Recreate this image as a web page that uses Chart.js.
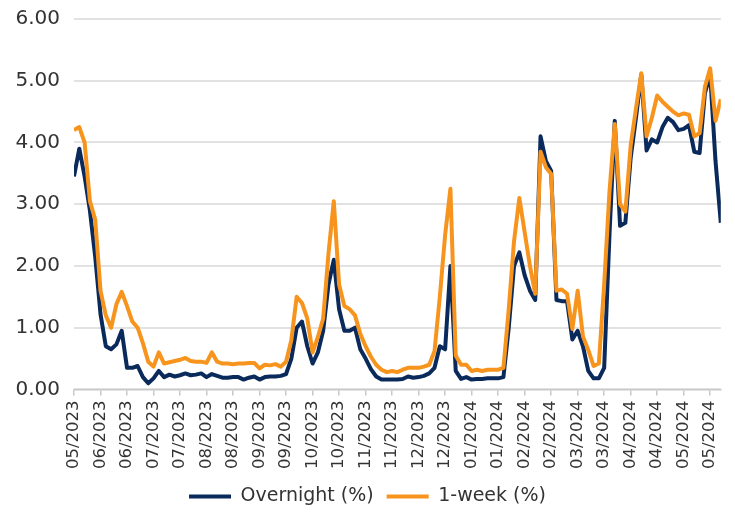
<!DOCTYPE html>
<html>
<head>
<meta charset="utf-8">
<script src="https://cdn.jsdelivr.net/npm/chart.js@4.4.1/dist/chart.umd.min.js"></script>
<style>
  html, body { margin: 0; padding: 0; background: #ffffff; }
  #wrap { width: 735px; height: 516px; }
</style>
</head>
<body>
<div id="wrap"><canvas id="c" width="735" height="516"></canvas></div>
<script>
// Tick labels (one every 5 observations)
const tickLabels = ['05/2023','06/2023','06/2023','07/2023','07/2023','08/2023','08/2023','09/2023','09/2023',
  '10/2023','10/2023','11/2023','11/2023','12/2023','12/2023','01/2024','01/2024','02/2024','02/2024',
  '03/2024','03/2024','04/2024','04/2024','05/2024','05/2024'];

// Overnight rate (%)
const overnight = [
  3.45,3.90,3.45,2.90,2.15,1.22,0.70,0.65,0.73,0.95,
  0.35,0.35,0.38,0.20,0.10,0.18,0.30,0.20,0.24,0.21,
  0.23,0.26,0.23,0.24,0.26,0.20,0.25,0.22,0.19,0.19,
  0.20,0.20,0.16,0.19,0.21,0.16,0.20,0.21,0.21,0.22,
  0.25,0.50,1.00,1.10,0.70,0.42,0.60,0.95,1.70,2.10,
  1.30,0.95,0.95,1.00,0.65,0.50,0.33,0.21,0.16,0.16,
  0.16,0.16,0.17,0.21,0.19,0.20,0.22,0.26,0.35,0.70,
  0.65,2.00,0.30,0.17,0.20,0.16,0.17,0.17,0.18,0.18,
  0.18,0.20,1.00,2.00,2.22,1.85,1.60,1.45,4.10,3.70,
  3.54,1.45,1.43,1.43,0.81,0.95,0.70,0.30,0.18,0.18,
  0.35,2.50,4.35,2.65,2.70,3.75,4.40,5.10,3.87,4.05,
  4.00,4.25,4.40,4.33,4.20,4.22,4.28,3.85,3.83,4.80,
  5.10,3.70,2.70
];

// 1-week rate (%)
const oneWeek = [
  4.20,4.25,4.00,3.05,2.75,1.60,1.20,1.00,1.38,1.58,
  1.35,1.10,1.00,0.75,0.45,0.37,0.60,0.42,0.44,0.46,
  0.48,0.51,0.46,0.45,0.45,0.43,0.60,0.45,0.42,0.42,
  0.41,0.42,0.42,0.43,0.43,0.34,0.40,0.39,0.41,0.37,
  0.45,0.80,1.50,1.40,1.15,0.60,0.85,1.15,2.20,3.05,
  1.70,1.35,1.30,1.20,0.90,0.70,0.53,0.40,0.32,0.28,
  0.30,0.28,0.32,0.35,0.35,0.35,0.37,0.40,0.62,1.50,
  2.50,3.25,0.55,0.40,0.40,0.30,0.32,0.30,0.32,0.32,
  0.32,0.35,1.30,2.40,3.10,2.55,2.00,1.55,3.85,3.60,
  3.49,1.60,1.62,1.55,0.98,1.60,0.86,0.64,0.38,0.42,
  1.70,3.20,4.30,3.00,2.88,3.95,4.55,5.12,4.10,4.40,
  4.76,4.66,4.58,4.50,4.44,4.47,4.45,4.10,4.15,4.90,
  5.20,4.35,4.70
];

const yTicks = [0, 1, 2, 3, 4, 5, 6];
const STEP = 5;

const navy = '#0b2a5c';
const orange = '#f7941d';
const textColor = '#333333';

const toPoints = arr => arr.map((v, i) => ({ x: i, y: v }));

new Chart(document.getElementById('c'), {
  type: 'line',
  data: {
    datasets: [
      { label: 'Overnight (%)', data: toPoints(overnight), borderColor: navy, backgroundColor: navy,
        borderWidth: 4, pointRadius: 0, tension: 0, borderJoinStyle: 'round', order: 1 },
      { label: '1-week (%)', data: toPoints(oneWeek), borderColor: orange, backgroundColor: orange,
        borderWidth: 4, pointRadius: 0, tension: 0, borderJoinStyle: 'round', order: 0 }
    ]
  },
  options: {
    responsive: false,
    animation: false,
    layout: { padding: { left: 0, right: 0, top: 0, bottom: 0 } },
    plugins: {
      tooltip: { enabled: false },
      legend: {
        position: 'bottom',
        labels: {
          boxWidth: 42,
          boxHeight: 4,
          padding: 13,
          color: textColor,
          font: { family: 'DejaVu Sans', size: 19 },
          generateLabels: (chart) => Chart.defaults.plugins.legend.labels.generateLabels(chart)
            .map(l => Object.assign({}, l, { lineWidth: 0, fillStyle: l.strokeStyle }))
            .sort((a, b) => a.datasetIndex - b.datasetIndex)
        }
      }
    },
    scales: {
      x: {
        type: 'linear',
        min: 0,
        max: overnight.length - 1,
        afterBuildTicks: (scale) => { scale.ticks = tickLabels.map((_, k) => ({ value: k * STEP })); },
        ticks: {
          autoSkip: false,
          maxRotation: 90,
          minRotation: 90,
          padding: 5,
          color: textColor,
          font: { family: 'DejaVu Sans', size: 16.5 },
          callback: (v, i) => tickLabels[i]
        },
        grid: { drawOnChartArea: false, drawTicks: true, tickLength: 6, color: '#c8c8c8', lineWidth: 1.5 },
        border: { display: true, color: '#c8c8c8', width: 1.5 }
      },
      y: {
        min: 0,
        max: 6,
        afterBuildTicks: (scale) => { scale.ticks = yTicks.map(v => ({ value: v })); },
        afterFit: (scale) => { scale.width = 74; },
        ticks: {
          padding: 14,
          color: textColor,
          font: { family: 'DejaVu Sans', size: 20, lineHeight: 0.5 },
          callback: v => Number(v).toFixed(2)
        },
        grid: { drawTicks: false, color: '#e2e2e2', lineWidth: 2 },
        border: { display: false }
      }
    }
  }
});
</script>
</body>
</html>
